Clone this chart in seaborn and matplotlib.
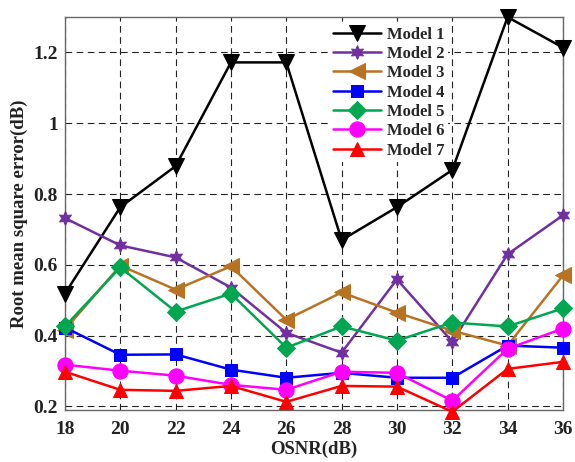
import matplotlib
matplotlib.use("Agg")
import matplotlib.pyplot as plt
import seaborn as sns
import pandas as pd

osnr = [18, 20, 22, 24, 26, 28, 30, 32, 34, 36]
model1 = [0.519, 0.763, 0.879, 1.172, 1.172, 0.670, 0.763, 0.868, 1.300, 1.214]
model2 = [0.732, 0.655, 0.621, 0.536, 0.408, 0.352, 0.559, 0.383, 0.630, 0.740]
model3 = [0.417, 0.598, 0.530, 0.596, 0.445, 0.522, 0.465, 0.414, 0.372, 0.570]
model4 = [0.423, 0.346, 0.347, 0.304, 0.281, 0.295, 0.281, 0.281, 0.372, 0.366]
model5 = [0.426, 0.593, 0.468, 0.519, 0.366, 0.426, 0.386, 0.437, 0.426, 0.477]
model6 = [0.318, 0.301, 0.287, 0.261, 0.247, 0.298, 0.295, 0.216, 0.363, 0.420]
model7 = [0.298, 0.247, 0.244, 0.258, 0.213, 0.258, 0.256, 0.185, 0.306, 0.326]
names = ["Model 1", "Model 2", "Model 3", "Model 4", "Model 5", "Model 6", "Model 7"]
series = [model1, model2, model3, model4, model5, model6, model7]

colors = ["#000000", "#7030A0", "#B87322", "#0000FF", "#00A650", "#FF00FF", "#FF0000"]
markers = ["v", (6, 1, 0), "<", "s", "D", "o", "^"]
msizes = [11, 10, 11, 9, 9, 11, 10]

sns.set_theme(style="white")
plt.rcParams['font.family'] = ['Liberation Serif', 'DejaVu Serif']
plt.rcParams['font.weight'] = 'bold'

fig = plt.figure(figsize=(5.75, 4.62), dpi=100)
ax = fig.add_axes([0.113, 0.1126, 0.866, 0.8504])

for name, vals, c, m, ms in zip(names, series, colors, markers, msizes):
    df = pd.DataFrame({"OSNR": osnr, "RMSE": vals})
    sns.lineplot(data=df, x="OSNR", y="RMSE", ax=ax, color=c, marker=m,
                 markersize=ms, markeredgecolor=c, linewidth=1.8, label=name,
                 clip_on=False, zorder=3)

ax.set_xlim(18, 36)
ax.set_ylim(0.19, 1.30)
ax.set_xticks(osnr)
ax.set_yticks([0.2, 0.4, 0.6, 0.8, 1.0, 1.2])
ax.set_yticklabels(["0.2", "0.4", "0.6", "0.8", "1", "1.2"])
ax.grid(True, linestyle=(0, (6, 4)), color="#222222", linewidth=0.8)
ax.set_axisbelow(True)
ax.tick_params(direction="in", length=4, labelsize=14, colors="#333333",
               labelcolor="#222222")
ax.tick_params(axis="x", pad=8)
ax.tick_params(axis="y", pad=5)
for lab in ax.get_xticklabels() + ax.get_yticklabels():
    lab.set_fontweight("bold")
for sp in ax.spines.values():
    sp.set_color("#666666")
    sp.set_linewidth(1.0)
ax.set_xlabel("OSNR(dB)", fontsize=13.5, fontweight="bold", color="#222222", labelpad=2)
ax.set_ylabel("Root mean square error(dB)", fontsize=13.5, fontweight="bold", color="#222222", labelpad=4)

leg = ax.legend(loc="upper left", bbox_to_anchor=(0.525, 0.993), frameon=True,
                fancybox=False, framealpha=1, edgecolor="white", handlelength=2.9,
                prop={"weight": "bold", "size": 12}, labelspacing=0.2,
                borderaxespad=0.2, handletextpad=0.35, borderpad=0.2)
leg.get_frame().set_linewidth(0)
leg.set_zorder(5)

fig.savefig("out.png", dpi=100)
